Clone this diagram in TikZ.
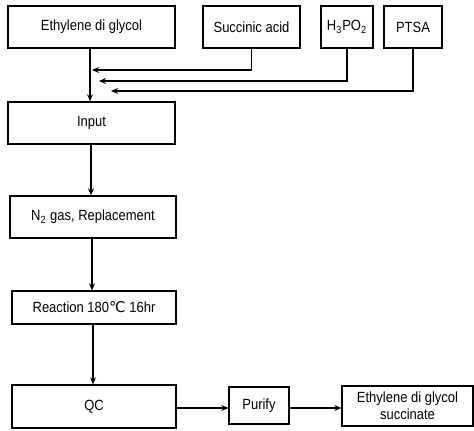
\documentclass[tikz,border=0pt]{standalone}
\usepackage{fontspec}
\setmainfont{Liberation Sans}[FakeStretch=0.88]
\newfontfamily\degfont{DejaVu Sans}
\usetikzlibrary{arrows.meta}

\begin{document}
\begin{tikzpicture}[scale=0.2]
 	\tikzstyle{every node}+=[inner sep=0pt, font=\fontsize{8.4}{9.6}\selectfont]
 	\tikzstyle{box}=[draw=black, line width=0.7pt, rectangle, align=center]
 	\tikzstyle{flow}=[black, line width=0.7pt, -{Stealth[length=4pt,width=3.4pt]}]
 	\useasboundingbox (0,0) rectangle (47.4,-43.1);
 	% raw materials
 	\node [box, minimum width=3.34cm, minimum height=0.84cm] (eg) at (9.15,-2.7) {Ethylene di glycol};
 	\node [box, minimum width=1.94cm, minimum height=0.84cm] (sa) at (25.15,-2.7) {Succinic acid};
 	\node [box, minimum width=1.04cm, minimum height=0.84cm] (hp) at (34.7,-2.7) {H\textsubscript{3}PO\textsubscript{2}};
 	\node [box, minimum width=1.16cm, minimum height=0.84cm] (pt) at (41.3,-2.7) {PTSA};
 	% process
 	\node [box, minimum width=3.34cm, minimum height=0.84cm] (input) at (9.15,-12.3) {Input};
 	\node [box, minimum width=3.32cm, minimum height=0.84cm] (n2) at (9.3,-21.7) {N\textsubscript{2} gas, Replacement};
 	\node [box, minimum width=3.28cm, minimum height=0.66cm] (re) at (9.4,-30.75) {Reaction 180{\degfont ℃} 16hr};
 	\node [box, minimum width=3.28cm, minimum height=0.86cm] (qc) at (9.4,-40.65) {QC};
 	\node [box, minimum width=1.2cm, minimum height=0.74cm] (pu) at (25.9,-40.55) {Purify};
 	\node [box, minimum width=2.62cm, minimum height=0.8cm] (prod) at (40.75,-40.6) {Ethylene di glycol\\succinate};
 	% feed points on the main line
 	\coordinate (sain) at (9.2,-7.0);
 	\coordinate (hpin) at (9.9,-8.1);
 	\coordinate (ptin) at (11.1,-9.1);
 	\draw [flow] (eg.south -| 9.0,0) -- (input.north -| 9.0,0);
 	\draw [flow] (sa.south) |- (sain);
 	\draw [flow] (hp.south) |- (hpin);
 	\draw [flow] (pt.south) |- (ptin);
 	\draw [flow] (input.south -| 9.1,0) -- (n2.north -| 9.1,0);
 	\draw [flow] (n2.south -| 9.2,0) -- (re.north -| 9.2,0);
 	\draw [flow] (re.south -| 9.3,0) -- (qc.north -| 9.3,0);
 	\draw [flow] (qc.east |- 0,-40.8) -- (pu.west |- 0,-40.8);
 	\draw [flow] (pu.east |- 0,-40.8) -- (prod.west |- 0,-40.8);
 	\end{tikzpicture}
\end{document}
